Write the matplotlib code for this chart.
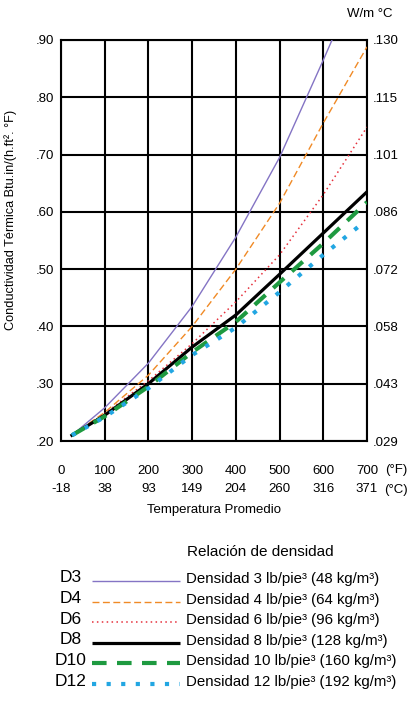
import numpy as np
import matplotlib
matplotlib.use("Agg")
from matplotlib import pyplot as plt

plt.rcParams['font.family'] = ['Liberation Sans Narrow', 'Liberation Sans', 'DejaVu Sans']

# temperatures (°F) where each curve was read
temp_f = [25, 100, 200, 300, 400, 500, 600, 700]
temp_d3 = [25, 100, 200, 300, 400, 500, 600, 620]
temp_d12 = [25, 100, 200, 300, 400, 500, 600, 690]

k_d3 = [0.21, 0.258, 0.336, 0.435, 0.556, 0.695, 0.865, 0.90]
k_d4 = [0.21, 0.250, 0.315, 0.400, 0.500, 0.615, 0.755, 0.888]
k_d6 = [0.21, 0.248, 0.305, 0.370, 0.443, 0.525, 0.630, 0.748]
k_d8 = [0.21, 0.245, 0.300, 0.364, 0.420, 0.491, 0.563, 0.635]
k_d10 = [0.21, 0.243, 0.295, 0.355, 0.408, 0.477, 0.545, 0.617]
k_d12 = [0.21, 0.242, 0.292, 0.350, 0.398, 0.460, 0.525, 0.580]

codes = ['D3', 'D4', 'D6', 'D8', 'D10', 'D12']
labels = ['Densidad 3 lb/pie³ (48 kg/m³)',
          'Densidad 4 lb/pie³ (64 kg/m³)',
          'Densidad 6 lb/pie³ (96 kg/m³)',
          'Densidad 8 lb/pie³ (128 kg/m³)',
          'Densidad 10 lb/pie³ (160 kg/m³)',
          'Densidad 12 lb/pie³ (192 kg/m³)']

xticks_f = [0, 100, 200, 300, 400, 500, 600, 700]
xticks_c = ['-18', '38', '93', '149', '204', '260', '316', '371']
yticks = [0.20, 0.30, 0.40, 0.50, 0.60, 0.70, 0.80, 0.90]
yticks_left = ['.20', '.30', '.40', '.50', '.60', '.70', '.80', '.90']
yticks_right = ['.029', '.043', '.058', '.072', '.086', '.101', '.115', '.130']

series = [
    (temp_d3, k_d3, dict(color='#8474c4', lw=1.0, ls='-')),
    (temp_f, k_d4, dict(color='#f08a26', lw=1.0, ls=(0, (5, 2.5)))),
    (temp_f, k_d6, dict(color='#e6303c', lw=1.1, ls=(0, (1, 2.2)))),
    (temp_f, k_d8, dict(color='black', lw=2.3, ls='-')),
    (temp_f, k_d10, dict(color='#1e9a40', lw=3.0, ls=(0, (3.5, 2.5)))),
    (temp_d12, k_d12, dict(color='#22a6e2', lw=3.0, ls=(0, (1, 2.5)))),
]

W, H = 410, 704
fig = plt.figure(figsize=(W / 100, H / 100), dpi=100)
ax = fig.add_axes([61 / W, 1 - 441 / H, 306 / W, 401 / H])

for x, y, st in series:
    ax.plot(x, y, zorder=3, **st)

ax.set_xlim(0, 700)
ax.set_ylim(0.20, 0.90)
ax.set_xticks(xticks_f)
ax.set_xticklabels([f"{f}\n{c}" for f, c in zip(xticks_f, xticks_c)],
                   linespacing=1.75)
ax.set_yticks(yticks)
ax.set_yticklabels(yticks_left)
ax.grid(True, color='black', lw=1.5)
for s in ax.spines.values():
    s.set_linewidth(1.5)
ax.tick_params(axis='x', length=0, pad=17, labelsize=9.5)
ax.tick_params(axis='y', length=0, pad=5, labelsize=9.5)

ax2 = ax.twinx()
ax2.set_ylim(ax.get_ylim())
ax2.set_yticks(yticks)
ax2.set_yticklabels(yticks_right)
ax2.tick_params(axis='y', length=0, pad=4, labelsize=9.5)
for s in ax2.spines.values():
    s.set_visible(False)

ax.text(1.095, -0.073, '(°F)', transform=ax.transAxes, ha='center', va='center', fontsize=9.5)
ax.text(1.095, -0.122, '(°C)', transform=ax.transAxes, ha='center', va='center', fontsize=9.5)
fig.text(370 / W, 1 - 14 / H, 'W/m °C', ha='center', va='center', fontsize=9.5)
ax.set_xlabel('Temperatura Promedio', fontsize=9.5, labelpad=6)
ax.set_ylabel('Conductividad Térmica Btu.in/(h.ft². °F)', fontsize=9.2)
ax.yaxis.set_label_coords(-0.144, 0.551)

# legend drawn by hand below the chart
lax = fig.add_axes([0, 0, 1, 176 / H])
lax.set_xlim(0, W)
lax.set_ylim(H, H - 176)
lax.axis('off')
lax.text(187, 552, 'Relación de densidad', fontsize=11, va='center')
row_y0, row_step = 578, 20.6
for i, (code, lab, (x, y, st)) in enumerate(zip(codes, labels, series)):
    yy = row_y0 + i * row_step
    lax.text(71, yy, code, fontsize=12.5, ha='center', va='center')
    lax.plot([92, 180], [yy + 3, yy + 3], solid_capstyle='butt', dash_capstyle='butt', **st)
    lax.text(186, yy + 1, lab, fontsize=10.8, va='center')

fig.savefig('out.png', dpi=100)
